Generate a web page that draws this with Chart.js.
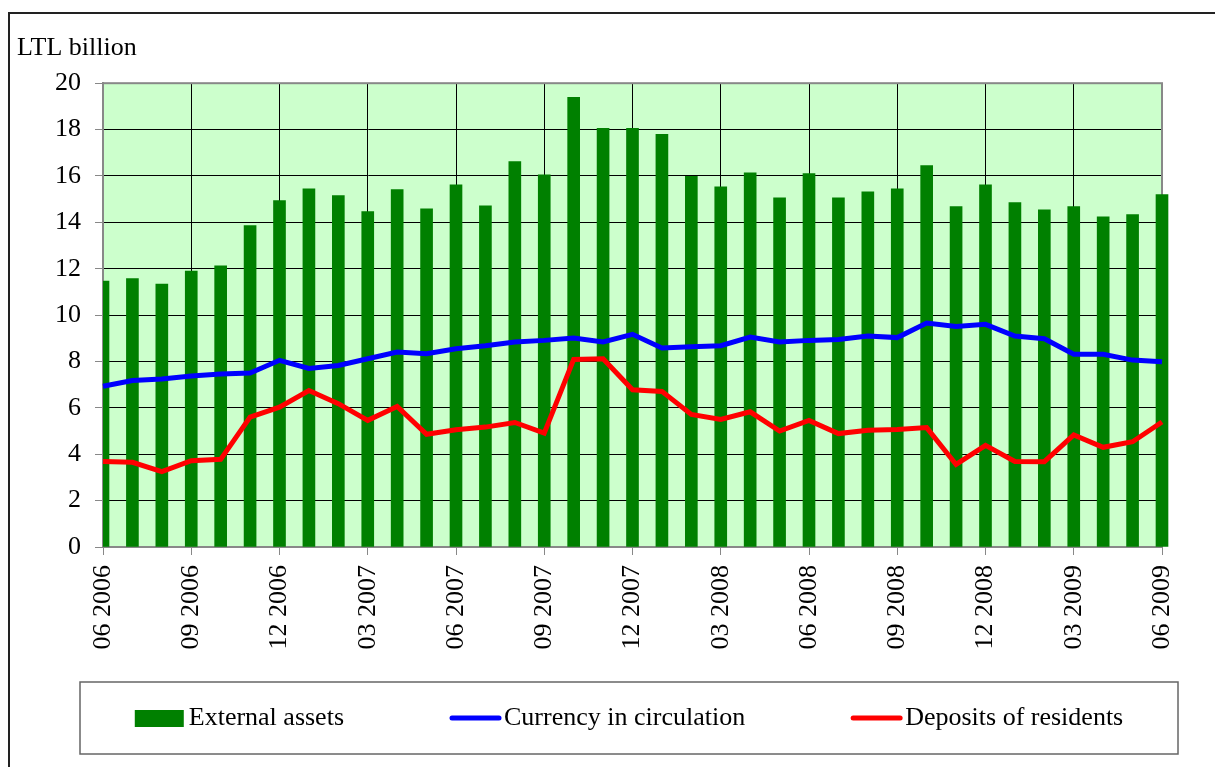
<!DOCTYPE html>
<html>
<head>
<meta charset="utf-8">
<script src="https://cdn.jsdelivr.net/npm/chart.js@4/dist/chart.umd.min.js"></script>
<style>
  html, body { margin: 0; padding: 0; background: #fff; }
  #wrap { position: relative; width: 1215px; height: 767px; overflow: hidden; }
  #frame { position: absolute; left: 8px; top: 12px; width: 1300px; height: 900px;
           border-left: 2px solid #222; border-top: 2px solid #222; }
  #chart { position: absolute; left: 0; top: 0; }
</style>
</head>
<body>
<div id="wrap">
  <div id="frame"></div>
  <canvas id="chart" width="1215" height="767"></canvas>
</div>
<script>
// months 06 2006 .. 06 2009
const months = ['06 2006', '07 2006', '08 2006', '09 2006', '10 2006', '11 2006', '12 2006',
    '01 2007', '02 2007', '03 2007', '04 2007', '05 2007', '06 2007', '07 2007', '08 2007',
    '09 2007', '10 2007', '11 2007', '12 2007', '01 2008', '02 2008', '03 2008', '04 2008',
    '05 2008', '06 2008', '07 2008', '08 2008', '09 2008', '10 2008', '11 2008', '12 2008',
    '01 2009', '02 2009', '03 2009', '04 2009', '05 2009', '06 2009'];

const externalAssets = [11.47, 11.57, 11.34, 11.9, 12.13, 13.86, 14.94, 15.45, 15.15, 14.46,
    15.41, 14.58, 15.62, 14.71, 16.62, 16.05, 19.39, 18.05, 18.05, 17.79, 15.98, 15.53, 16.14,
    15.06, 16.1, 15.06, 15.32, 15.45, 16.45, 14.68, 15.62, 14.85, 14.54, 14.68, 14.24, 14.33, 15.2];

const currency = [6.93, 7.18, 7.24, 7.37, 7.46, 7.5, 8.05, 7.7, 7.83, 8.12, 8.41, 8.33, 8.55,
    8.68, 8.84, 8.91, 9.01, 8.84, 9.17, 8.58, 8.64, 8.68, 9.05, 8.84, 8.91, 8.95, 9.1, 9.03,
    9.66, 9.51, 9.6, 9.1, 8.98, 8.31, 8.31, 8.06, 7.99];

const deposits = [3.69, 3.65, 3.25, 3.72, 3.78, 5.6, 6.03, 6.75, 6.18, 5.46, 6.06, 4.86, 5.06,
    5.17, 5.37, 4.91, 8.09, 8.12, 6.78, 6.71, 5.72, 5.5, 5.83, 5.0, 5.46, 4.89, 5.03, 5.07,
    5.15, 3.56, 4.38, 3.69, 3.68, 4.83, 4.3, 4.54, 5.39];

const yTicks = [0, 2, 4, 6, 8, 10, 12, 14, 16, 18, 20];

const FONT = "'Liberation Serif', 'Times New Roman', serif";

// light green plot area + grey frame
const plotBg = {
    id: 'plotBg',
    beforeDraw(chart) {
        const a = chart.chartArea, c = chart.ctx;
        c.save();
        c.fillStyle = '#CCFFCC';
        c.fillRect(a.left, a.top, a.right - a.left, a.bottom - a.top);
        c.restore();
    },
    beforeDatasetsDraw(chart) {
        const a = chart.chartArea, c = chart.ctx;
        c.save();
        c.strokeStyle = '#888';
        c.lineWidth = 2;
        c.strokeRect(a.left, a.top, a.right - a.left, a.bottom - a.top);
        c.restore();
    }
};

// boxed legend below the axis
const boxLegend = {
    id: 'boxLegend',
    afterDraw(chart, args, opts) {
        const c = chart.ctx;
        c.save();
        c.strokeStyle = '#666';
        c.lineWidth = 1.5;
        c.strokeRect(opts.left, opts.top, opts.width, opts.height);
        c.font = '26px ' + FONT;
        c.textBaseline = 'middle';
        c.fillStyle = '#000';
        const items = chart.data.datasets.map(d => ({
            text: d.label, type: d.type, color: d.type === 'bar' ? d.backgroundColor : d.borderColor
        }));
        const symW = 49, gap = 5, itemGap = 106;
        let total = 0;
        items.forEach(it => { it.w = c.measureText(it.text).width; total += symW + gap + it.w; });
        total += itemGap * (items.length - 1);
        let x = opts.left + opts.width / 2 - total / 2;
        const cy = opts.top + opts.height / 2;
        items.forEach(it => {
            if (it.type === 'bar') {
                c.fillStyle = it.color;
                c.fillRect(x, cy - 8, symW, 17);
            } else {
                c.strokeStyle = it.color;
                c.lineWidth = 5;
                c.lineCap = 'round';
                c.beginPath();
                c.moveTo(x + 2, cy);
                c.lineTo(x + symW, cy);
                c.stroke();
            }
            c.fillStyle = '#000';
            c.fillText(it.text, x + symW + gap, cy);
            x += symW + gap + it.w + itemGap;
        });
        c.restore();
    }
};

const chart = new Chart(document.getElementById('chart'), {
    data: {
        labels: months,
        datasets: [
            {
                type: 'bar',
                label: 'External assets',
                data: externalAssets,
                backgroundColor: '#008000',
                barThickness: 12,
                order: 3,
                clip: { left: 0, top: 10, right: 10, bottom: 0 }
            },
            {
                type: 'line',
                label: 'Currency in circulation',
                data: currency,
                borderColor: '#0000FF',
                borderWidth: 5,
                pointRadius: 0,
                tension: 0,
                order: 2
            },
            {
                type: 'line',
                label: 'Deposits of residents',
                data: deposits,
                borderColor: '#FF0000',
                borderWidth: 5,
                pointRadius: 0,
                tension: 0,
                order: 1
            }
        ]
    },
    options: {
        responsive: false,
        animation: false,
        layout: { padding: { left: 17, right: 53, top: 0, bottom: 100 } },
        plugins: {
            legend: { display: false },
            tooltip: { enabled: false },
            title: {
                display: true,
                text: 'LTL billion',
                align: 'start',
                color: '#000',
                font: { family: FONT, size: 26, weight: 'normal' },
                padding: { top: 33, bottom: 19 }
            },
            boxLegend: { left: 80, top: 682, width: 1098, height: 72 }
        },
        scales: {
            x: {
                offset: false,
                afterFit(scale) { scale.height = 120; },
                grid: {
                    offset: false,
                    color: ctx => (ctx.index % 3 === 0 ? '#000' : 'transparent'),
                    tickColor: ctx => (ctx.index % 3 === 0 ? '#888' : 'transparent'),
                    tickLength: 8,
                    lineWidth: 1
                },
                border: { color: '#888', width: 2 },
                ticks: {
                    autoSkip: false,
                    maxRotation: 90,
                    minRotation: 90,
                    padding: 10,
                    color: '#000',
                    font: { family: FONT, size: 26 },
                    callback: (v, i) => (i % 3 === 0 ? months[i] : '')
                }
            },
            y: {
                min: 0,
                max: 20,
                afterFit(scale) { scale.width = 86; },
                afterBuildTicks(scale) { scale.ticks = yTicks.map(v => ({ value: v })); },
                grid: { color: '#000', lineWidth: 1, tickColor: '#888', tickLength: 8 },
                border: { color: '#888', width: 2 },
                ticks: {
                    padding: 14,
                    color: '#000',
                    font: { family: FONT, size: 26 }
                }
            }
        }
    },
    plugins: [plotBg, boxLegend]
});
</script>
</body>
</html>
